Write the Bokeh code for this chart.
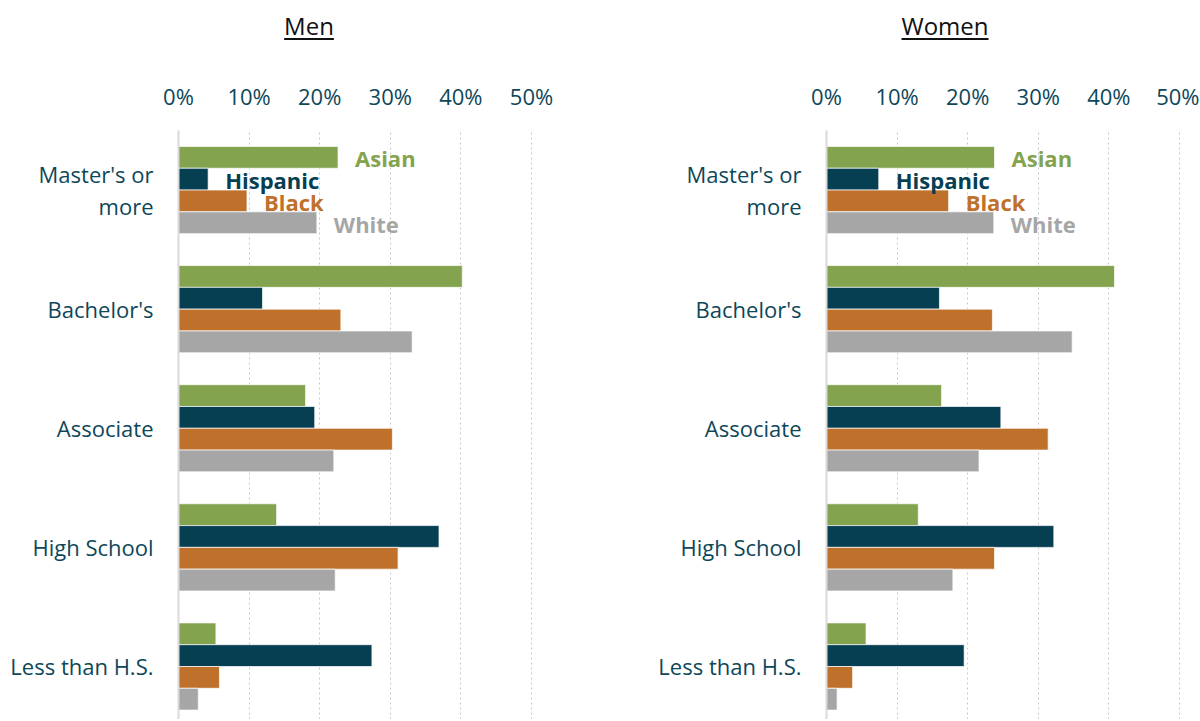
from bokeh.plotting import figure
from bokeh.models import Range1d, FixedTicker, Div, ColumnDataSource
from bokeh.layouts import row, column
from bokeh.transform import dodge
from bokeh.core.properties import value
from bokeh.embed import file_html
from bokeh.resources import INLINE

# ---------------- data ----------------
categories = ["Master's or\nmore", "Bachelor's", "Associate", "High School", "Less than H.S."]
series = ["Asian", "Hispanic", "Black", "White"]

men_asian = [22.6, 40.2, 18.0, 13.9, 5.3]
men_hispanic = [4.2, 11.9, 19.3, 36.9, 27.4]
men_black = [9.7, 23.0, 30.3, 31.1, 5.8]
men_white = [19.6, 33.1, 22.0, 22.2, 2.8]

women_asian = [23.8, 40.8, 16.3, 13.0, 5.6]
women_hispanic = [7.4, 16.0, 24.7, 32.2, 19.5]
women_black = [17.3, 23.5, 31.4, 23.8, 3.7]
women_white = [23.7, 34.8, 21.6, 17.9, 1.5]

tick_values = [0, 10, 20, 30, 40, 50]
tick_labels = ["0%", "10%", "20%", "30%", "40%", "50%"]

panel_titles = ["Men", "Women"]

# ---------------- style ----------------
colors = ["#83A34E", "#063F51", "#BF712B", "#A6A6A6"]
offsets = [0.2745, 0.0915, -0.0915, -0.2745]
BAR_H = 0.183
FONT = "Open Sans"
TEAL = "#0D4759"
GRID = "#C8C8C8"

DIV_H = 46
FIG_H = 663


def make_panel(vals, width, border_left, border_right):
    ypos = list(range(len(categories) - 1, -1, -1))
    data = dict(y=ypos)
    for s, v in zip(series, vals):
        data[s] = v
    src = ColumnDataSource(data)

    p = figure(width=width, height=FIG_H,
               x_range=Range1d(0, 50.57), y_range=Range1d(-0.445, 4.5),
               x_axis_location="above",
               output_backend="svg", toolbar_location=None,
               min_border_left=border_left, min_border_right=border_right,
               min_border_top=74, min_border_bottom=0)
    p.outline_line_color = None
    p.background_fill_color = "white"
    p.border_fill_color = "white"

    for s, c, off in zip(series, colors, offsets):
        p.hbar(y=dodge("y", off), left=0, right=s, height=BAR_H, source=src,
               fill_color=c, line_color="white", line_alpha=0.7, line_width=1)

    # series labels next to the top category's bars
    top = len(categories) - 1
    lab = ColumnDataSource(dict(
        x=[v[0] for v in vals],
        y=[top + o for o in offsets],
        text=series,
        color=colors,
    ))
    p.text(x="x", y="y", text="text", source=lab, text_color="color",
           x_offset=17, y_offset=1, text_align="left", text_baseline="middle",
           text_font=value(FONT), text_font_style="bold", text_font_size="22px")

    # x axis (top)
    xa = p.xaxis[0]
    xa.ticker = FixedTicker(ticks=tick_values)
    xa.major_label_overrides = {t: l for t, l in zip(tick_values, tick_labels)}
    xa.axis_line_color = None
    xa.major_tick_line_color = None
    xa.minor_tick_line_color = None
    xa.major_label_standoff = 14
    xa.major_label_text_font = FONT
    xa.major_label_text_font_size = "22px"
    xa.major_label_text_color = TEAL

    # y axis (categories)
    ya = p.yaxis[0]
    ya.ticker = FixedTicker(ticks=ypos)
    ya.major_label_overrides = {y: c for y, c in zip(ypos, categories)}
    ya.axis_line_color = "#D9D9D9"
    ya.axis_line_width = 2
    ya.major_tick_line_color = None
    ya.minor_tick_line_color = None
    ya.major_label_standoff = 19
    ya.major_label_text_font = FONT
    ya.major_label_text_font_size = "22px"
    ya.major_label_text_color = TEAL
    ya.major_label_text_align = "center"
    ya.major_label_text_line_height = 1.05

    p.ygrid.grid_line_color = None
    p.xgrid.ticker = FixedTicker(ticks=tick_values[1:])
    p.xgrid.grid_line_color = GRID
    p.xgrid.grid_line_dash = "2 3"
    p.xgrid.grid_line_width = 1
    return p


def make_title(text, width, center):
    html = (f'<div style="position:relative; left:{center - 150}px; width:300px; '
            f'margin-top:4px; text-align:center; font-family:\'{FONT}\'; font-size:24px; '
            f'color:#111111; text-decoration:underline; text-underline-offset:3px;">{text}</div>')
    return Div(text=html, width=width, height=DIV_H)


p_men = make_panel([men_asian, men_hispanic, men_black, men_white], 592, 178, 57)
p_women = make_panel([women_asian, women_hispanic, women_black, women_white], 607, 234, 16)

d_men = make_title(panel_titles[0], 592, 304)
d_women = make_title(panel_titles[1], 607, 338)

layout = column(row(d_men, d_women), row(p_men, p_women))

open("out.html", "w").write(file_html(layout, INLINE))
